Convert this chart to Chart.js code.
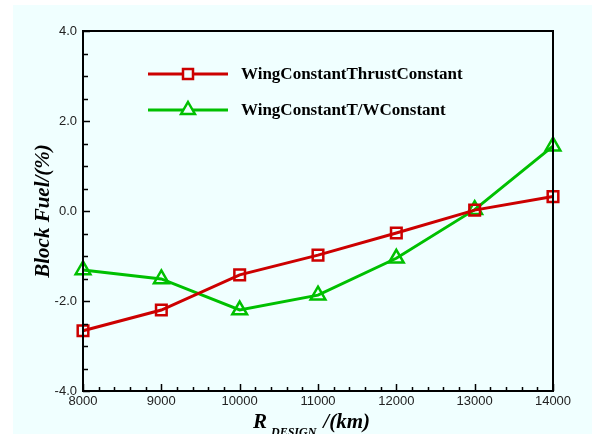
<!DOCTYPE html>
<html>
<head>
<meta charset="utf-8">
<script src="https://cdn.jsdelivr.net/npm/chart.js@4/dist/chart.umd.min.js"></script>
<style>
  html, body { margin: 0; padding: 0; background: #f0ffff; overflow: hidden; }
  canvas { display: block; }
</style>
</head>
<body>
<canvas id="c" width="592" height="434"></canvas>
<script>
// Design range (km) and block-fuel change (%) for the two sizing strategies
const ranges = [8000, 9000, 10000, 11000, 12000, 13000, 14000];
const thrustConstant = [-2.66, -2.2, -1.42, -0.98, -0.49, 0.02, 0.32];
const twConstant = [-1.31, -1.51, -2.2, -1.87, -1.05, 0.03, 1.44];
const seriesNames = ['WingConstantThrustConstant', 'WingConstantT/WConstant'];
const xMajorTicks = [8000, 9000, 10000, 11000, 12000, 13000, 14000];
const yMajorTicks = [-4, -2, 0, 2, 4];

const RED = '#cc0000';
const GREEN = '#00c000';
const SERIF = '"Liberation Serif", "Times New Roman", serif';

function pts(xs, ys) { return xs.map((x, i) => ({ x: x, y: ys[i] })); }

const framePlugin = {
  id: 'frame',
  beforeDraw(chart) {
    const ctx = chart.ctx;
    ctx.save();
    ctx.fillStyle = '#f0ffff';
    ctx.fillRect(0, 0, chart.width, chart.height);
    ctx.fillStyle = '#ffffff';
    ctx.fillRect(0, 0, chart.width, 5);
    ctx.fillRect(0, 0, 13, chart.height);
    ctx.restore();
  },
  afterDatasetsDraw(chart) {
    const ctx = chart.ctx;
    const a = chart.chartArea;
    const xs = chart.scales.x, ys = chart.scales.y;
    ctx.save();
    ctx.strokeStyle = '#000';
    ctx.lineWidth = 2;
    ctx.strokeRect(a.left, a.top, a.right - a.left, a.bottom - a.top);
    ctx.lineWidth = 1.5;
    ctx.beginPath();
    // x ticks: majors every 1000, minors every 200, pointing inward
    for (let v = xs.min; v <= xs.max + 1e-6; v += 200) {
      const px = Math.round(xs.getPixelForValue(v)) + 0.5;
      const len = (v % 1000 === 0) ? 7 : 4;
      ctx.moveTo(px, a.bottom);
      ctx.lineTo(px, a.bottom - len);
    }
    // y ticks: majors every 2, minors every 0.5
    for (let k = 0; k <= 16; k++) {
      const v = ys.min + k * 0.5;
      const py = Math.round(ys.getPixelForValue(v)) + 0.5;
      const len = (k % 4 === 0) ? 7 : 5;
      ctx.moveTo(a.left, py);
      ctx.lineTo(a.left + len, py);
    }
    ctx.stroke();

    // legend
    const items = [
      { name: seriesNames[0], color: RED, shape: 'rect', y: 74 },
      { name: seriesNames[1], color: GREEN, shape: 'triangle', y: 110 }
    ];
    items.forEach(it => {
      ctx.strokeStyle = it.color;
      ctx.lineWidth = 3;
      ctx.beginPath();
      ctx.moveTo(148, it.y);
      ctx.lineTo(228, it.y);
      ctx.stroke();
      ctx.lineWidth = 2.5;
      ctx.fillStyle = '#f0ffff';
      ctx.beginPath();
      if (it.shape === 'rect') {
        ctx.rect(188 - 5, it.y - 5, 10, 10);
      } else {
        const r = 8;
        ctx.moveTo(188, it.y - r);
        ctx.lineTo(188 + r * 0.866, it.y + r * 0.5);
        ctx.lineTo(188 - r * 0.866, it.y + r * 0.5);
        ctx.closePath();
      }
      ctx.fill();
      ctx.stroke();
      ctx.fillStyle = '#000';
      ctx.font = 'bold 17px ' + SERIF;
      ctx.textBaseline = 'middle';
      ctx.textAlign = 'left';
      ctx.fillText(it.name, 241, it.y + 1);
    });

    // axis titles
    ctx.fillStyle = '#000';
    ctx.textBaseline = 'alphabetic';
    ctx.save();
    ctx.translate(49, 211);
    ctx.rotate(-Math.PI / 2);
    ctx.textAlign = 'center';
    ctx.font = 'italic bold 21px ' + SERIF;
    ctx.fillText('Block Fuel/(%)', 0, 0);
    ctx.restore();

    ctx.textAlign = 'left';
    let x0 = 253;
    ctx.font = 'italic bold 21px ' + SERIF;
    ctx.fillText('R', x0, 428);
    x0 += ctx.measureText('R').width + 4;
    ctx.font = 'italic bold 12px ' + SERIF;
    ctx.fillText('DESIGN', x0, 436);
    x0 += ctx.measureText('DESIGN').width + 7;
    ctx.font = 'italic bold 21px ' + SERIF;
    ctx.fillText('/(km)', x0, 428);
    ctx.restore();
  }
};

new Chart(document.getElementById('c'), {
  type: 'line',
  data: {
    datasets: [
      {
        label: seriesNames[0],
        data: pts(ranges, thrustConstant),
        borderColor: RED,
        backgroundColor: 'rgba(0,0,0,0)',
        borderWidth: 3,
        pointStyle: 'rect',
        pointRadius: 7.5,
        pointBorderWidth: 2.5,
        pointBorderColor: RED,
        pointBackgroundColor: 'rgba(0,0,0,0)',
        tension: 0,
        clip: false
      },
      {
        label: seriesNames[1],
        data: pts(ranges, twConstant),
        borderColor: GREEN,
        backgroundColor: 'rgba(0,0,0,0)',
        borderWidth: 3,
        pointStyle: 'triangle',
        pointRadius: 8.5,
        pointBorderWidth: 2.5,
        pointBorderColor: GREEN,
        pointBackgroundColor: 'rgba(0,0,0,0)',
        tension: 0,
        clip: false
      }
    ]
  },
  options: {
    responsive: false,
    animation: false,
    devicePixelRatio: 1,
    layout: { padding: { left: 0, top: 31, right: 39, bottom: 0 } },
    plugins: { legend: { display: false }, tooltip: { enabled: false } },
    scales: {
      x: {
        type: 'linear',
        min: 8000, max: 14000,
        afterFit(s) { s.height = 43; },
        afterBuildTicks(s) { s.ticks = xMajorTicks.map(v => ({ value: v })); },
        grid: { display: false, drawTicks: false },
        border: { display: false },
        ticks: {
          padding: 3,
          color: '#222',
          font: { family: '"Liberation Sans", Arial, sans-serif', size: 13 },
          callback: v => String(v)
        }
      },
      y: {
        type: 'linear',
        min: -4, max: 4,
        afterFit(s) { s.width = 83; },
        afterBuildTicks(s) { s.ticks = yMajorTicks.map(v => ({ value: v })); },
        grid: { display: false, drawTicks: false },
        border: { display: false },
        ticks: {
          padding: 6,
          color: '#222',
          font: { family: '"Liberation Sans", Arial, sans-serif', size: 13 },
          callback: v => Number(v).toFixed(1)
        }
      }
    }
  },
  plugins: [framePlugin]
});
</script>
</body>
</html>
